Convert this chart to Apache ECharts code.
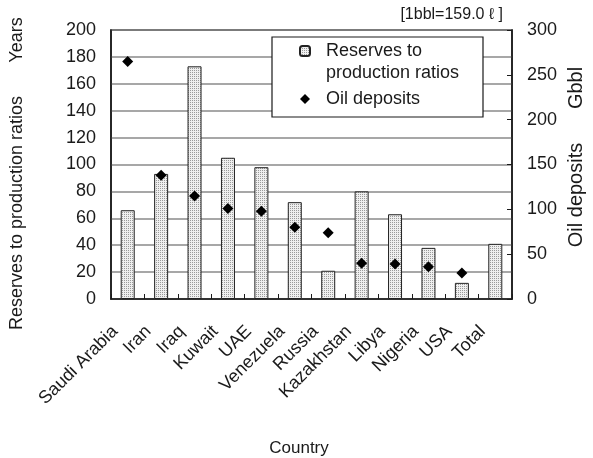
<!DOCTYPE html>
<html>
<head>
<meta charset="utf-8">
<script src="https://cdn.jsdelivr.net/npm/echarts@6/dist/echarts.min.js"></script>
<style>
  html, body { margin: 0; padding: 0; background: #fff; }
  #chart { width: 593px; height: 458px; }
</style>
</head>
<body>
<div id="chart"></div>
<script>
// Countries on the category axis
const countries = ['Saudi Arabia', 'Iran', 'Iraq', 'Kuwait', 'UAE', 'Venezuela',
  'Russia', 'Kazakhstan', 'Libya', 'Nigeria', 'USA', 'Total'];
// Reserves to production ratios (years, left axis)
const rpRatios = [66, 93, 173, 105, 98, 72, 21, 80, 63, 38, 12, 41];
// Proven oil deposits (Gbbl, right axis); no point for the total
const oilDeposits = [265, 138, 115, 101, 98, 80, 74, 40, 39, 36, 29, null];
// Tick labels of both value axes
const leftTicks = [0, 20, 40, 60, 80, 100, 120, 140, 160, 180, 200];
const rightTicks = [0, 50, 100, 150, 200, 250, 300];

const FONT = "'Liberation Sans', Arial, sans-serif";
const INK = '#1a1a1a';

// Fine dotted fill used for the bars
function dotPattern() {
  const c = document.createElement('canvas');
  c.width = 2; c.height = 2;
  const g = c.getContext('2d');
  g.fillStyle = '#efefef';
  g.fillRect(0, 0, 2, 2);
  g.fillStyle = '#9a9a9a';
  g.fillRect(0, 0, 1, 1);
  return c;
}
const barFill = { image: dotPattern(), repeat: 'repeat' };

const chart = echarts.init(document.getElementById('chart'), null, { renderer: 'canvas' });

chart.setOption({
  animation: false,
  backgroundColor: '#fff',
  textStyle: { fontFamily: FONT, color: INK },
  grid: {
    left: 111, right: 81, top: 30, bottom: 159,
    show: true, borderColor: INK, borderWidth: 1.5, backgroundColor: 'transparent'
  },
  legend: {
    orient: 'vertical',
    left: 299, top: 18,
    padding: 0,
    itemGap: 4,
    itemWidth: 10, itemHeight: 10,
    textStyle: {
      fontSize: 18, lineHeight: 22, color: INK, fontFamily: FONT, padding: [0, 0, 0, 11],
      rich: { gap: { fontSize: 18, lineHeight: 22 } }
    },
    // a blank leading line keeps the swatch level with "Reserves to"
    formatter: function (name) {
      return name === 'Reserves to production ratios'
        ? '{gap| }\nReserves to\nproduction ratios' : name;
    },
    data: ['Reserves to production ratios', 'Oil deposits']
  },
  xAxis: {
    type: 'category',
    data: countries,
    boundaryGap: true,
    axisLine: { show: true, lineStyle: { color: INK, width: 1.5 } },
    axisTick: { show: true, inside: true, length: 5, alignWithLabel: false, lineStyle: { color: INK } },
    axisLabel: {
      interval: 0, rotate: 45, fontSize: 18, color: INK, fontFamily: FONT,
      margin: 17, padding: [0, 18, 0, 0]
    },
    splitLine: { show: false }
  },
  yAxis: [
    {
      type: 'value', min: leftTicks[0], max: leftTicks[leftTicks.length - 1], interval: 20,
      axisLine: { show: true, lineStyle: { color: INK, width: 1.5 } },
      axisTick: { show: false },
      axisLabel: { fontSize: 18, color: INK, margin: 15, fontFamily: FONT },
      splitLine: { show: true, lineStyle: { color: '#8a8a8a', width: 1.5 } }
    },
    {
      type: 'value', min: rightTicks[0], max: rightTicks[rightTicks.length - 1], interval: 50,
      position: 'right',
      axisLine: { show: true, lineStyle: { color: INK, width: 1.5 } },
      axisTick: { show: true, inside: true, length: 5, lineStyle: { color: INK } },
      axisLabel: { fontSize: 18, color: INK, margin: 15, fontFamily: FONT },
      splitLine: { show: false }
    }
  ],
  series: [
    {
      name: 'Reserves to production ratios',
      type: 'bar',
      yAxisIndex: 0,
      barWidth: 14,
      data: rpRatios,
      itemStyle: { color: barFill, borderColor: '#222', borderWidth: 1 }
    },
    {
      name: 'Oil deposits',
      type: 'scatter',
      yAxisIndex: 1,
      symbol: 'diamond',
      symbolSize: 11,
      data: oilDeposits,
      itemStyle: { color: '#000', opacity: 1 },
      z: 5
    }
  ],
  graphic: [
    // frame behind the legend entries
    {
      type: 'rect', z: 1,
      shape: { x: 272, y: 37, width: 211, height: 80 },
      style: { fill: '#fff', stroke: INK, lineWidth: 1.2 }
    },
    {
      type: 'text', x: 17, y: 40, rotation: Math.PI / 2,
      style: { text: 'Years', font: '18px ' + FONT, fill: INK, align: 'center', verticalAlign: 'middle' }
    },
    {
      type: 'text', x: 17, y: 213, rotation: Math.PI / 2,
      style: { text: 'Reserves to production ratios', font: '18px ' + FONT, fill: INK, align: 'center', verticalAlign: 'middle' }
    },
    {
      type: 'text', x: 576, y: 88, rotation: Math.PI / 2,
      style: { text: 'Gbbl', font: '20px ' + FONT, fill: INK, align: 'center', verticalAlign: 'middle' }
    },
    {
      type: 'text', x: 576, y: 195, rotation: Math.PI / 2,
      style: { text: 'Oil deposits', font: '20px ' + FONT, fill: INK, align: 'center', verticalAlign: 'middle' }
    },
    {
      type: 'text', x: 299, y: 448,
      style: { text: 'Country', font: '17px ' + FONT, fill: INK, align: 'center', verticalAlign: 'middle' }
    },
    {
      type: 'text', x: 503, y: 15,
      style: { text: '[1bbl=159.0 \u2113 ]', font: '16px ' + FONT, fill: INK, align: 'right', verticalAlign: 'middle' }
    }
  ]
});
</script>
</body>
</html>
